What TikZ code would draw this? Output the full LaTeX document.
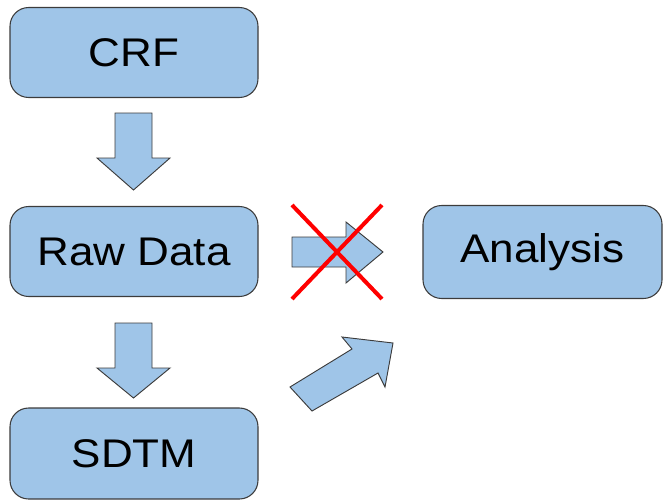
\documentclass[tikz,border=0pt]{standalone}
\usepackage{fontspec}
\setmainfont[FakeStretch=1.1]{Liberation Sans}
\definecolor{boxfill}{HTML}{9FC5E8}
\definecolor{boxline}{HTML}{3C3C3C}
\definecolor{crossred}{HTML}{FF0000}
\begin{document}
\begin{tikzpicture}[x=0.75pt,y=-0.75pt,
  stagebox/.style={draw=boxline,fill=boxfill,line width=0.8pt,rounded corners=14pt,
    minimum width=248*0.75pt,minimum height=90*0.75pt,inner sep=0pt,
    font=\fontsize{30pt}{34pt}\selectfont},
  blockarrow/.style={draw=boxline,fill=boxfill,line width=0.7pt,line join=miter},
  cross/.style={draw=crossred,line width=3pt}]
\useasboundingbox (0,0) rectangle (664,500);
\node[stagebox] (crf) at (134,52.5) {CRF};
\node[stagebox] (raw) at (134,251.5) {Raw Data};
\node[stagebox,minimum height=91*0.75pt] (sdtm) at (134,453.5) {SDTM};
\node[stagebox,minimum width=239*0.75pt,minimum height=93*0.75pt] (ana) at (542.5,252) {Analysis};
% down arrows
\draw[blockarrow] (115,113) -- (152,113) -- (152,158) -- (170,158) -- (133.5,190) -- (97,158) -- (115,158) -- cycle;
\draw[blockarrow] (115,323) -- (152,323) -- (152,368) -- (170,368) -- (133.5,398) -- (97,368) -- (115,368) -- cycle;
% crossed right arrow
\draw[blockarrow] (292,237) -- (346,237) -- (346,222) -- (383,252) -- (346,283) -- (346,267) -- (292,267) -- cycle;
\draw[cross] (292,205) -- (382,299);
\draw[cross] (382,205) -- (292,299);
% diagonal arrow
\draw[blockarrow] (290,387) -- (352,349) -- (342,337) -- (393,343) -- (385,387) -- (378,373) -- (312,411) -- cycle;
\end{tikzpicture}
\end{document}
